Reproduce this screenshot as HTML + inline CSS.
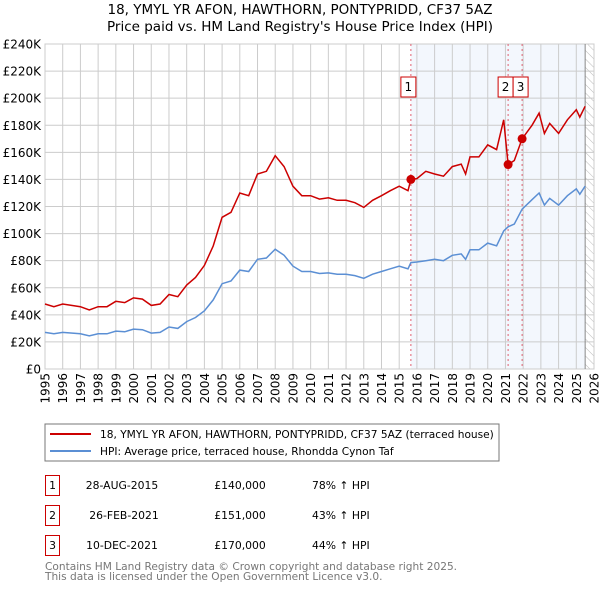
<!DOCTYPE html>
<html><head><meta charset="utf-8"><style>
body{margin:0;background:#fff;font-family:"DejaVu Sans","Liberation Sans",sans-serif;}
svg text{font-family:"DejaVu Sans","Liberation Sans",sans-serif;}
</style></head><body>
<svg id="c" width="600" height="590" xmlns="http://www.w3.org/2000/svg">
<defs><pattern id="hatch" width="6" height="6" patternUnits="userSpaceOnUse" patternTransform="rotate(-45)"><line x1="0" y1="0" x2="0" y2="6" stroke="#bbb" stroke-width="1"/></pattern></defs>
<text x="300" y="14" text-anchor="middle" font-size="13.5">18, YMYL YR AFON, HAWTHORN, PONTYPRIDD, CF37 5AZ</text>
<text x="300" y="31" text-anchor="middle" font-size="13.5">Price paid vs. HM Land Registry's House Price Index (HPI)</text>
<g id="plot"></g>
<rect x="45" y="424" width="454" height="37" fill="#fff" stroke="#777"/>
<line x1="50" y1="434" x2="91" y2="434" stroke="#cc0000" stroke-width="2"/>
<text x="100" y="438" font-size="10.6">18, YMYL YR AFON, HAWTHORN, PONTYPRIDD, CF37 5AZ (terraced house)</text>
<line x1="50" y1="451" x2="91" y2="451" stroke="#5b8fd4" stroke-width="2"/>
<text x="100" y="455" font-size="10.6">HPI: Average price, terraced house, Rhondda Cynon Taf</text>
<g font-size="10.8">
<rect x="45.5" y="475.5" width="14" height="20" fill="#fff" stroke="#cc0000"/><text x="52.5" y="489" text-anchor="middle">1</text>
<text x="122" y="489" text-anchor="middle">28-AUG-2015</text><text x="240" y="489" text-anchor="middle">£140,000</text><text x="312" y="489">78% ↑ HPI</text>
<rect x="45.5" y="505.5" width="14" height="20" fill="#fff" stroke="#cc0000"/><text x="52.5" y="519" text-anchor="middle">2</text>
<text x="124" y="519" text-anchor="middle">26-FEB-2021</text><text x="240" y="519" text-anchor="middle">£151,000</text><text x="312" y="519">43% ↑ HPI</text>
<rect x="45.5" y="535.5" width="14" height="20" fill="#fff" stroke="#cc0000"/><text x="52.5" y="549" text-anchor="middle">3</text>
<text x="122" y="549" text-anchor="middle">10-DEC-2021</text><text x="240" y="549" text-anchor="middle">£170,000</text><text x="312" y="549">44% ↑ HPI</text>
</g>
<text x="45" y="570" font-size="10.6" fill="#777">Contains HM Land Registry data © Crown copyright and database right 2025.</text>
<text x="45" y="580" font-size="10.6" fill="#777">This data is licensed under the Open Government Licence v3.0.</text>
</svg>
<script>
const times=[1995,1995.5,1996,1997,1997.5,1998,1998.5,1999,1999.5,2000,2000.5,2001,2001.5,2002,2002.5,2003,2003.5,2004,2004.5,2005,2005.5,2006,2006.5,2007,2007.5,2008,2008.5,2009,2009.5,2010,2010.5,2011,2011.5,2012,2012.5,2013,2013.5,2014,2014.5,2015,2015.5,2015.66,2016,2016.5,2017,2017.5,2018,2018.5,2018.75,2019,2019.5,2020,2020.5,2020.9,2021.15,2021.5,2021.94,2022.5,2022.9,2023.2,2023.5,2024,2024.5,2025,2025.2,2025.5];
const hpi=[27,26,27,26,24.5,26,26,28,27.5,29.5,29,26.5,27,31,30,35,38,43,51,63,65,73,72,81,82,88.5,84,76,72,72,70.5,71,70,70,69,67,70,72,74,76,74,78.6,79,80,81,80,84,85,81,88,88,93,91,102,105,107,118,125,130,121,126,121,128,133,129,135];
const price=[48,46,48,46,43.6,46,46,50,49,52.5,51.6,47,48,55,53.4,62,67.6,76.5,90.8,112,115.7,130,128,144,146,157.5,149.5,135,128,128,125.5,126.4,124.6,124.6,122.8,119.3,124.6,128,131.7,135,131.7,140,140.6,146,144,142.4,149.5,151.3,144,156.6,156.6,165.5,162,184,151,154,170,180,189,174,181.4,174,184,191.5,186,194];
const saleTimes=[2015.66,2021.15,2021.94];
const salePrices=[140,151,170];
const saleLabels=["1","2","3"];
const yTicks=[0,20,40,60,80,100,120,140,160,180,200,220,240];
const xTicks=[1995,1996,1997,1998,1999,2000,2001,2002,2003,2004,2005,2006,2007,2008,2009,2010,2011,2012,2013,2014,2015,2016,2017,2018,2019,2020,2021,2022,2023,2024,2025,2026];
const L=45,R=594,T=44,B=369;
const X=t=>L+(t-1995)/(2026-1995)*(R-L);
const Y=v=>B-v/240*(B-T);
const NS="http://www.w3.org/2000/svg";
const g=document.getElementById('plot');
function mk(tag,at,parent){const e=document.createElementNS(NS,tag);for(const k in at)e.setAttribute(k,at[k]);(parent||g).appendChild(e);return e;}
let e;
e=mk('rect',{x:X(saleTimes[0]),y:T,width:X(2025.5)-X(saleTimes[0]),height:B-T,fill:'#eef3fc',opacity:0.7});


e=mk('rect',{x:X(2025.5),y:T,width:R-X(2025.5),height:B-T,fill:'url(#hatch)'});


yTicks.forEach(v=>{
 e=mk('line',{x1:L,x2:R,y1:Y(v),y2:Y(v),stroke:'#ccc'});
 
 
 e=mk('text',{x:L-4,y:Y(v)+4.5,'text-anchor':'end','font-size':12});
 e.textContent=v===0?'£0':'£'+v+'K';
 
 
});
xTicks.forEach(t=>{
 e=mk('line',{x1:X(t),x2:X(t),y1:T,y2:B,stroke:'#ccc'});
 
 
 e=mk('text',{x:X(t)+4.5,y:B+4,'text-anchor':'end','font-size':12,transform:`rotate(-90 ${X(t)+4.5} ${B+4})`});
 e.textContent=t;
 
 
});
e=mk('rect',{x:L,y:T,width:R-L,height:B-T,fill:'none',stroke:'#ccc'});


e=mk('line',{x1:X(2025.5),x2:X(2025.5),y1:T,y2:B,stroke:'#888'});


saleTimes.forEach((t,i)=>{
 e=mk('line',{x1:X(t),x2:X(t),y1:T,y2:B,stroke:'#e06070','stroke-dasharray':'2,3'});
 
 
});
const pts=a=>a.map((v,i)=>X(times[i]).toFixed(1)+','+Y(v).toFixed(1)).join(' ');
e=mk('polyline',{points:pts(hpi),fill:'none',stroke:'#5b8fd4','stroke-width':1.5});


e=mk('polyline',{points:pts(price),fill:'none',stroke:'#cc0000','stroke-width':1.5});


saleTimes.forEach((t,i)=>{
 e=mk('circle',{cx:X(t),cy:Y(salePrices[i]),r:4.5,fill:'#cc0000'});
 
 
 const x0=i===0?X(t)-10:(i===1?X(t)-10:X(t)-9);
 e=mk('rect',{x:x0,y:77,width:15,height:20,fill:'#fff',stroke:'#cc0000'});
 
 
 e=mk('text',{x:x0+7.5,y:91,'text-anchor':'middle','font-size':12});
 e.textContent=saleLabels[i];
 
 
});
</script>
</body></html>
